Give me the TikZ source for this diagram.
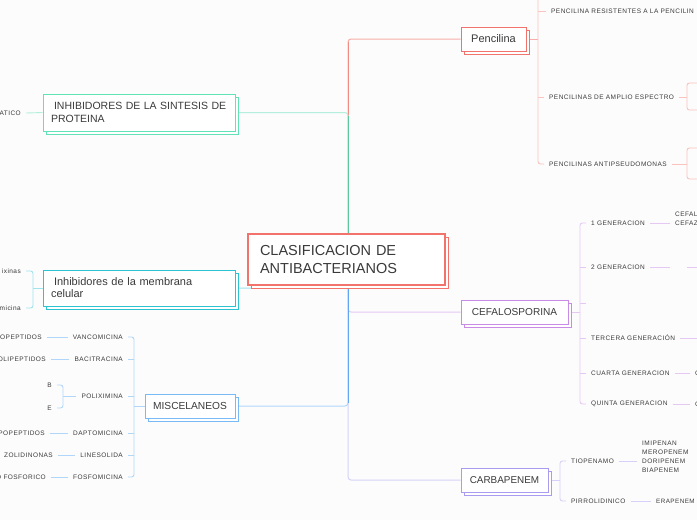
\documentclass[tikz,border=0pt]{standalone}
\usepackage{fontspec}
\setmainfont{Liberation Sans}
\newfontfamily\smallf[LetterSpace=7]{Liberation Sans}
\usetikzlibrary{backgrounds,shadows}
\definecolor{txt}{HTML}{3A3A3A}
\definecolor{bg}{HTML}{FCFCFC}
\definecolor{redB}{HTML}{F2736C}
\definecolor{redD}{HTML}{F48A84}
\definecolor{redL}{HTML}{F8AEA9}
\definecolor{redLL}{HTML}{FBC2BE}
\definecolor{grnB}{HTML}{62E3B5}
\definecolor{grnL}{HTML}{B4EEDC}
\definecolor{grnD}{HTML}{5CC79A}
\definecolor{cyaB}{HTML}{2CC4D2}
\definecolor{cyaL}{HTML}{9DE4EC}
\definecolor{bluB}{HTML}{78BAF6}
\definecolor{bluL}{HTML}{B0D7FA}
\definecolor{bluD}{HTML}{62A6F2}
\definecolor{purB}{HTML}{C98BE6}
\definecolor{purL}{HTML}{E6C8F5}
\definecolor{lavB}{HTML}{A99CF0}
\definecolor{lavL}{HTML}{D6D1F9}
\tikzset{
  mbox/.style={draw=#1, fill=white, line width=1pt, rectangle, inner sep=0pt, text=txt,
     general shadow={shadow xshift=3pt, shadow yshift=-3pt, draw=#1, fill=white, line width=1pt}},
  lab/.style={font=\smallf\fontsize{6.5}{9}\selectfont, text=txt, inner xsep=5pt, inner ysep=1pt},
  conn/.style={draw=#1, line width=1pt, rounded corners=3pt},
  sub/.style={draw=#1, line width=0.9pt, rounded corners=2.5pt},
}
\begin{document}
\begin{tikzpicture}[x=1pt,y=-1pt]
\useasboundingbox (0,0) rectangle (697,520);
\clip (0,0) rectangle (697,520);
% main boxes
\node[mbox=redB, line width=1.3pt, inner xsep=12pt, text width=173pt, minimum height=51pt, align=left,
      font=\fontsize{14.5}{17.5}\selectfont] (c) at (346.5,259.5) {CLASIFICACION DE\\ANTIBACTERIANOS};
\node[mbox=redB, minimum width=65pt, minimum height=24pt, font=\fontsize{11}{13}\selectfont] (pen) at (493.5,39) {Pencilina};
\node[mbox=purB, minimum width=107pt, minimum height=24pt, font=\fontsize{10.1}{12}\selectfont] (cef) at (514.5,312) {CEFALOSPORINA};
\node[mbox=lavB, minimum width=87pt, minimum height=24pt, font=\fontsize{9.9}{12}\selectfont] (carb) at (504.5,480) {CARBAPENEM};
\node[mbox=bluB, minimum width=90pt, minimum height=24pt, font=\fontsize{10.2}{12}\selectfont] (misc) at (190,406) {MISCELANEOS};
\node[mbox=grnB, inner xsep=8pt, text width=176pt, minimum height=37pt, align=left,
      font=\fontsize{10.5}{13}\selectfont] (prot) at (139,112.5) {\hspace{3pt}INHIBIDORES DE LA SINTESIS DE\\PROTEINA};
\node[mbox=cyaB, inner xsep=8pt, text width=176pt, minimum height=36pt, align=left,
      font=\fontsize{11}{12}\selectfont] (memb) at (139,288) {\hspace{3pt}Inhibidores de la membrana\\celular};

% pencilina children
\node[lab, anchor=west] (p1) at (546,11) {PENCILINA RESISTENTES A LA PENCILIN};
\node[lab, anchor=west] (p2) at (544,97) {PENCILINAS DE AMPLIO ESPECTRO};
\node[lab, anchor=west] (p3) at (544,164) {PENCILINAS ANTIPSEUDOMONAS};
% cefalosporina children
\node[lab, anchor=west] (c1) at (586,223) {1 GENERACION};
\node[lab, anchor=west] (c2) at (586,267) {2 GENERACION};
\node[lab, anchor=west] (c3) at (586,303) {};
\node[lab, anchor=west] (c4) at (586,338) {TERCERA GENERACIÓN};
\node[lab, anchor=west] (c5) at (586,373) {CUARTA GENERACION};
\node[lab, anchor=west] (c6) at (586,404) {QUINTA GENERACION};
\node[lab, anchor=west, align=left] (cf) at (670,218.5) {CEFAL\\CEFAZ};
\node[lab, anchor=west] (c5x) at (690,373) {C};
\node[lab, anchor=west] (c6x) at (690,404) {C};
% carbapenem children
\node[lab, anchor=west] (t1) at (566,461) {TIOPENAMO};
\node[lab, anchor=west] (t2) at (566,501) {PIRROLIDINICO};
\node[lab, anchor=west, align=left] (t1x) at (637,456.5) {IMIPENAN\\MEROPENEM\\DORIPENEM\\BIAPENEM};
\node[lab, anchor=west, font=\smallf\fontsize{6.3}{9}\selectfont] (t2x) at (651,501) {ERAPENEM};
% miscelaneos children
\node[lab, anchor=east] (m1) at (128,337) {VANCOMICINA};
\node[lab, anchor=east] (m2) at (128,359) {BACITRACINA};
\node[lab, anchor=east] (m3) at (128,396) {POLIXIMINA};
\node[lab, anchor=east] (m4) at (128,433) {DAPTOMICINA};
\node[lab, anchor=east] (m5) at (128,455) {LINESOLIDA};
\node[lab, anchor=east] (m6) at (128,477) {FOSFOMICINA};
\node[lab, anchor=east] (l1) at (47,337) {OPEPTIDOS};
\node[lab, anchor=east] (l2) at (51,359) {OLIPEPTIDOS};
\node[lab, anchor=east] (l4) at (50,433) {POPEPTIDOS};
\node[lab, anchor=east] (l5) at (58,455) {ZOLIDINONAS};
\node[lab, anchor=east] (l6) at (51,477) {O FOSFORICO};
\node[lab, anchor=east] (mB) at (57,385) {B};
\node[lab, anchor=east] (mE) at (57,408) {E};
% membrana / proteina left
\node[lab, anchor=east] (lt) at (26,271) {ixinas};
\node[lab, anchor=east] (ld) at (26,308) {micina};
\node[lab, anchor=east] (pl) at (26,113) {ATICO};

% coordinates
\coordinate (ctop) at (348,234);
\coordinate (cbot) at (348,285);
\coordinate (pb) at (538,39);
\coordinate (ptop) at (538,0);
\coordinate (p2b) at (687,97);
\coordinate (p2t) at (698,83);
\coordinate (p2d) at (698,110);
\coordinate (p3b) at (687,164);
\coordinate (p3t) at (698,148);
\coordinate (p3d) at (698,179);
\coordinate (cb) at (580,312);
\coordinate (c2x) at (670,267);
\coordinate (c2y) at (687,267);
\coordinate (c2z) at (698,267);
\coordinate (c4z) at (698,338);
\coordinate (kb) at (560,480);
\coordinate (mb) at (134,406);
\coordinate (qb) at (63,396);
\coordinate (lb) at (33,288);

\begin{scope}[on background layer]
\fill[bg] (0,0) rectangle (697,520);
% trunk connectors
\draw[conn=redL] (ctop) |- (pen.west);
\draw[redD, line width=1pt, shorten >=3pt] (ctop) -- (ctop |- pen.west);
\draw[conn=grnL] (ctop) |- (prot.east);
\draw[grnD, line width=1pt, shorten >=3pt] (ctop) -- (ctop |- prot.east);
\draw[conn=lavL] (cbot) |- (carb.west);
\draw[conn=purL] (cbot) |- (cef.west);
\draw[conn=cyaL] (cbot) |- (memb.east);
\draw[conn=bluL] (cbot) |- (misc.east);
\draw[bluD, line width=1pt, shorten >=3pt] (cbot) -- (cbot |- misc.east);
% pencilina
\draw[sub=redL] (pen.east) -- (pb);
\draw[sub=redLL] (ptop) |- (p3.west);
\draw[sub=redLL] (pb |- p1.west) -- (p1.west);
\draw[sub=redLL] (pb |- p2.west) -- (p2.west);
\draw[sub=redLL] (p2.east) -- (p2b);
\draw[sub=redLL] (p2t) -| (p2b) |- (p2d);
\draw[sub=redLL] (p3.east) -- (p3b);
\draw[sub=redLL] (p3t) -| (p3b) |- (p3d);
% cefalosporina
\draw[sub=purL] (cef.east) -- (cb);
\draw[sub=purL] (c1.west) -| (cb |- c6.west) -- (c6.west);
\draw[sub=purL] (cb |- c2.west) -- (c2.west);
\draw[sub=purL] (cb |- c3.west) -- (c3.west);
\draw[sub=purL] (cb |- c4.west) -- (c4.west);
\draw[sub=purL] (cb |- c5.west) -- (c5.west);
\draw[sub=purL] (c1.east) -- (c1.east -| cf.west);
\draw[sub=purL] (c2.east) -- (c2x);
\draw[sub=purL] (c2y) -- (c2z);
\draw[sub=purL] (c4.east) -- (c4z);
\draw[sub=purL] (c5.east) -- (c5x.west);
\draw[sub=purL] (c6.east) -- (c6x.west);
% carbapenem
\draw[sub=lavL] (carb.east) -- (kb);
\draw[sub=lavL] (t1.west) -| (kb |- t2.west) -- (t2.west);
\draw[sub=lavL] (t1.east) -- (t1.east -| t1x.west);
\draw[sub=lavL] (t2.east) -- (t2x.west);
% miscelaneos
\draw[sub=bluL] (misc.west) -- (mb);
\draw[sub=bluL] (m1.east) -| (mb |- m6.east) -- (m6.east);
\draw[sub=bluL] (mb |- m2.east) -- (m2.east);
\draw[sub=bluL] (mb |- m3.east) -- (m3.east);
\draw[sub=bluL] (mb |- m4.east) -- (m4.east);
\draw[sub=bluL] (mb |- m5.east) -- (m5.east);
\draw[sub=bluL] (m1.west) -- (l1.east);
\draw[sub=bluL] (m2.west) -- (l2.east);
\draw[sub=bluL] (m4.west) -- (l4.east);
\draw[sub=bluL] (m5.west) -- (l5.east);
\draw[sub=bluL] (m6.west) -- (l6.east);
\draw[sub=bluL] (m3.west) -- (qb);
\draw[sub=bluL] (mB.east) -| (qb |- mE.east) -- (mE.east);
% membrana
\draw[sub=cyaL] (memb.west) -- (lb);
\draw[sub=cyaL] (lt.east) -| (lb |- ld.east) -- (ld.east);
% proteina
\draw[sub=grnL] (prot.west) -- (pl.east);
\end{scope}
\end{tikzpicture}
\end{document}
